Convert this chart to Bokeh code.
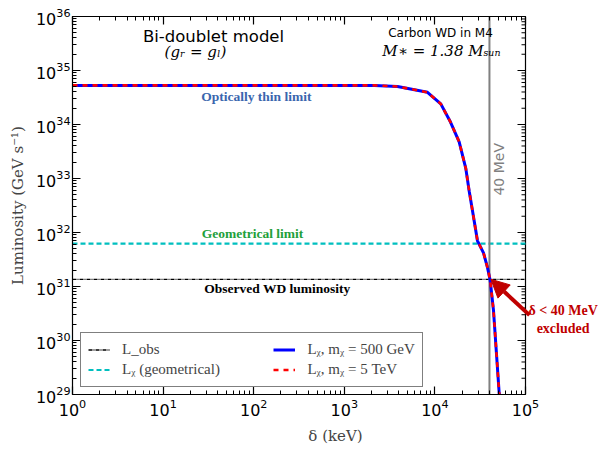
import numpy as np
from bokeh.plotting import figure
from bokeh.models import (LogAxis, LogTicker, Label, Legend, LegendItem,
                          Arrow, NormalHead, Range1d)
from bokeh.embed import file_html
from bokeh.resources import INLINE

# ---- data ----
x_min, x_max = 1.0, 1.0e5
y_min, y_max = 1.0e29, 1.0e36
delta_kev = [1, 10, 100, 1000, 2154, 3866, 8285, 11610, 14860, 18530, 21930,
             23920, 26020, 29510, 34380, 38080, 40780, 44330, 47020, 51270, 53700]
lum_500gev = [5.3e34, 5.3e34, 5.3e34, 5.3e34, 5.3e34, 5.06e34, 3.95e34, 2.41e34,
              1.11e34, 4.77e33, 1.54e33, 5.82e32, 2.5e32, 7.0e31, 4.2e31, 2.23e31,
              1.29e31, 3.6e30, 8.6e29, 1.04e29, 6.0e28]
lum_5tev = list(lum_500gev)
L_obs = 1.36e31
L_geom = 6.2e31
delta_cut = 4.0e4

# ---- layout: the axes box spans 453 px for 5 decades; the frame is widened
# to the right so that the annotation outside the box can be drawn ----
W, H = 598, 447
B_LEFT, B_RIGHT, B_TOP, B_BOTTOM = 72, 0, 16, 50
frame_w = W - B_LEFT - B_RIGHT
box_w = 453.0
px_per_dec = box_w / np.log10(x_max / x_min)
x_view_max = x_min * 10 ** (frame_w / px_per_dec)

p = figure(x_axis_type="log", y_axis_type="log",
           x_range=Range1d(x_min, x_view_max), y_range=Range1d(y_min, y_max),
           width=W, height=H,
           min_border_left=B_LEFT, min_border_right=B_RIGHT,
           min_border_top=B_TOP, min_border_bottom=B_BOTTOM,
           output_backend="svg", toolbar_location=None)
p.grid.visible = False
p.outline_line_color = None
p.background_fill_color = "white"
p.border_fill_color = "white"

def style_axis(ax, labels=True):
    ax.major_tick_in = 8
    ax.major_tick_out = 0
    ax.minor_tick_in = 4
    ax.minor_tick_out = 0
    ax.axis_line_color = "black"
    ax.axis_line_width = 1.2
    ax.major_tick_line_color = "black"
    ax.minor_tick_line_color = "black"
    ax.major_tick_line_width = 1.2
    ax.major_label_text_font = "DejaVu Sans"
    ax.major_label_text_color = "black"
    if labels:
        ax.major_label_text_font_size = "16px"
    else:
        ax.major_label_text_font_size = "1px"
        ax.major_label_text_alpha = 0
        ax.major_label_standoff = 0

for ax in p.xaxis + p.yaxis:
    style_axis(ax)
    ax.ticker = LogTicker(num_minor_ticks=10)
p.xaxis.bounds = (x_min, x_max)

p.xaxis.axis_label = "δ (keV)"
p.yaxis.axis_label = "Luminosity (GeV s⁻¹)"
for ax in p.xaxis + p.yaxis:
    ax.axis_label_text_font = "DejaVu Serif"
    ax.axis_label_text_font_style = "normal"
    ax.axis_label_text_font_size = "15px"
p.xaxis.major_label_standoff = 4
p.xaxis.axis_label_standoff = 8
p.yaxis.major_label_standoff = 2
p.yaxis.axis_label_standoff = 6

top = LogAxis(ticker=LogTicker(num_minor_ticks=10), bounds=(x_min, x_max))
style_axis(top, labels=False)
p.add_layout(top, "above")

# right spine of the axes box, with inward ticks like the other sides
p.line([x_max, x_max], [y_min, y_max], line_color="black", line_width=1.2)
dec = np.arange(np.log10(y_min), np.log10(y_max) + 1)
major_y = 10.0 ** dec
minor_y = np.array([k * 10.0 ** d for d in dec[:-1] for k in range(2, 10)])
p.segment(x0=x_max / 10 ** (8 / px_per_dec), x1=x_max, y0=major_y, y1=major_y,
          line_color="black", line_width=1.2)
p.segment(x0=x_max / 10 ** (4 / px_per_dec), x1=x_max, y0=minor_y, y1=minor_y,
          line_color="black", line_width=1)

# ---- lines ----
r_obs = p.line([x_min, x_max], [L_obs, L_obs], line_color="black",
               line_width=1.3, line_dash="4 1 1 1")
r_geom = p.line([x_min, x_max], [L_geom, L_geom], line_color="#00bfbf",
                line_width=2.2, line_dash="5 3")
r_cut = p.line([delta_cut, delta_cut], [y_min, y_max], line_color="gray",
               line_width=2)
r_500 = p.line(delta_kev, lum_500gev, line_color="blue", line_width=3)
r_5t = p.line(delta_kev, lum_5tev, line_color="red", line_width=2.6,
              line_dash="5 5")

# ---- texts ----
def lab(x, y, text, size, color="black", font="DejaVu Sans", style="normal",
        angle=0.0):
    p.add_layout(Label(x=x, y=y, text=text, text_font=font,
                       text_font_size=size, text_color=color,
                       text_font_style=style, text_align="center",
                       text_baseline="middle", angle=angle))

lab(36.0, 4.28e35, "Bi-doublet model", "16.5px")
lab(22.8, 2.18e35, "(gᵣ = gₗ)", "15px", font="DejaVu Serif", style="italic")
lab(11530, 4.87e35, "Carbon WD in M4", "12px")
lab(11830, 2.28e35, "M∗ = 1.38 Mₛᵤₙ", "15px", font="DejaVu Serif", style="italic")
lab(107, 3.24e34, "Optically thin limit", "13.5px", color="#3a66ae",
    font="Liberation Serif", style="bold")
lab(97, 9.4e31, "Geometrical limit", "13.5px", color="#22a03a",
    font="Liberation Serif", style="bold")
lab(183, 9.2e30, "Observed WD luminosity", "13.5px", color="black",
    font="Liberation Serif", style="bold")
lab(5.04e4, 1.48e33, "40 MeV", "14px", color="gray", angle=np.pi / 2)
lab(2.6e5, 3.63e30, "δ < 40 MeV", "14px", color="#c00000",
    font="Liberation Serif", style="bold")
lab(2.6e5, 1.69e30, "excluded", "14px", color="#c00000",
    font="Liberation Serif", style="bold")

p.add_layout(Arrow(x_start=1.107e5, y_start=2.95e30, x_end=4.15e4, y_end=1.36e31,
                   line_color="#c00000", line_width=4,
                   end=NormalHead(size=18, fill_color="#c00000",
                                  line_color="#c00000")))

# ---- legend ----
pad = " " * 14
legend = Legend(items=[
    LegendItem(label="L_obs" + pad, renderers=[r_obs]),
    LegendItem(label="Lᵪ (geometrical)" + pad, renderers=[r_geom]),
    LegendItem(label="Lᵪ, mᵪ = 500 GeV", renderers=[r_500]),
    LegendItem(label="Lᵪ, mᵪ = 5 TeV", renderers=[r_5t]),
], location=(8, 7), orientation="vertical", nrows=2)
legend.label_text_font = "Liberation Serif"
legend.label_text_font_size = "15px"
legend.glyph_width = 22
legend.glyph_height = 19
legend.label_height = 19
legend.label_standoff = 12
legend.spacing = 1
legend.padding = 7
legend.margin = 0
legend.border_line_color = "black"
legend.border_line_width = 1.2
legend.background_fill_alpha = 1
p.add_layout(legend)

open("out.html", "w").write(file_html(p, INLINE))
